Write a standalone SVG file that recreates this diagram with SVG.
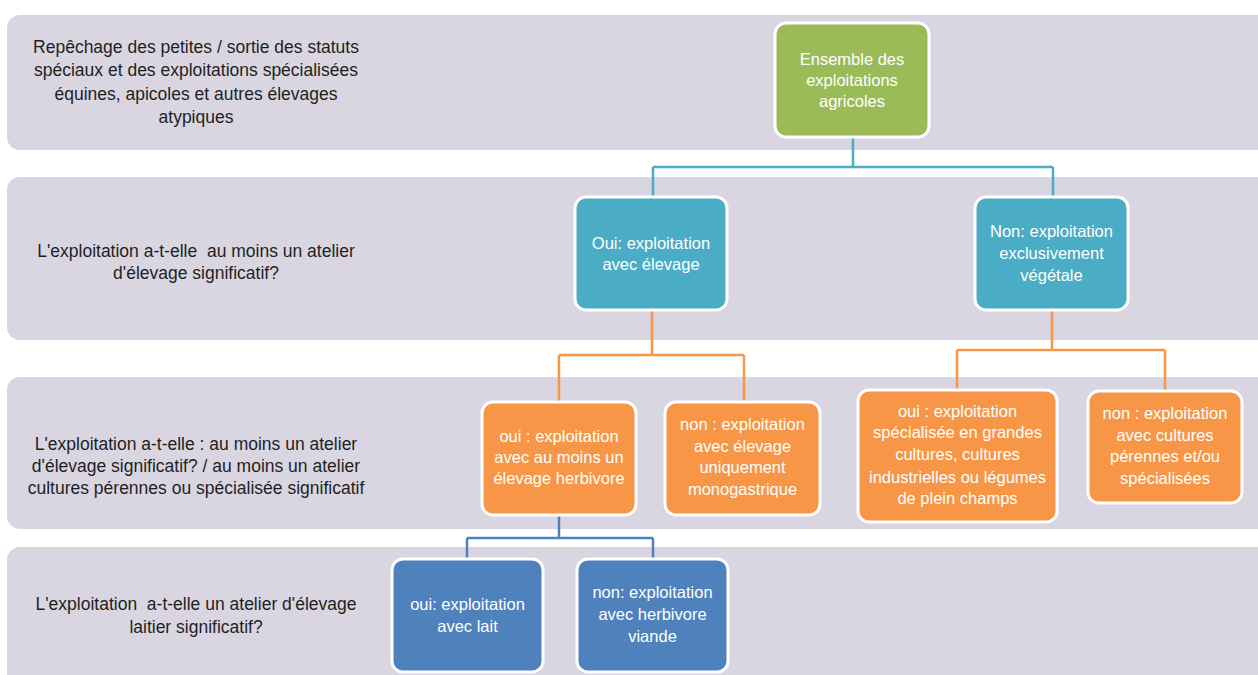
<svg xmlns="http://www.w3.org/2000/svg" width="1258" height="675" viewBox="0 0 1258 675">
<style>
.band{fill:#d9d6e2;}
.lbl{font-family:"Liberation Sans",Arial,sans-serif;font-size:17.5px;fill:#1f1f1f;text-anchor:middle;}
.nt{font-family:"Liberation Sans",Arial,sans-serif;font-size:16.5px;fill:#ffffff;text-anchor:middle;}
.node{stroke:#ffffff;stroke-width:3;}
.green{fill:#9bbb59;}
.teal{fill:#4bacc6;}
.orange{fill:#f79646;}
.blue{fill:#4f81bd;}
.c{fill:none;stroke-width:2.5;}
.ct{stroke:#4bacc6;}
.co{stroke:#f79646;}
.cb{stroke:#4f81bd;}
</style>
<rect width="1258" height="675" fill="#ffffff"/>
<g id="bands">
<g id="band1"><rect class="band" x="7" y="15" width="1270" height="135" rx="13"/>
<text class="lbl"><tspan x="196" y="53">Repêchage des petites / sortie des statuts</tspan><tspan x="196" y="76">spéciaux et des exploitations spécialisées</tspan><tspan x="196" y="100">équines, apicoles et autres élevages</tspan><tspan x="196" y="123">atypiques</tspan></text></g>
<g id="band2"><rect class="band" x="7" y="177" width="1270" height="163" rx="13"/>
<text class="lbl"><tspan x="196" y="257">L'exploitation a-t-elle&#160; au moins un atelier</tspan><tspan x="196" y="279">d'élevage significatif?</tspan></text></g>
<g id="band3"><rect class="band" x="7" y="377" width="1270" height="152" rx="13"/>
<text class="lbl"><tspan x="196" y="450">L'exploitation a-t-elle : au moins un atelier</tspan><tspan x="196" y="472">d'élevage significatif? / au moins un atelier</tspan><tspan x="196" y="494">cultures pérennes ou spécialisée significatif</tspan></text></g>
<g id="band4"><rect class="band" x="7" y="547" width="1270" height="150" rx="13"/>
<text class="lbl"><tspan x="196" y="610">L'exploitation&#160; a-t-elle un atelier d'élevage</tspan><tspan x="196" y="633">laitier significatif?</tspan></text></g>
</g>
<g id="connectors">
<path class="c ct" d="M853 137 V167 M653 167 H1053 M653 167 V197 M1053 167 V197"/>
<path class="c co" d="M652 310 V355 M559 355 H744 M559 355 V402 M744 355 V402"/>
<path class="c co" d="M1052 310 V350 M957 350 H1165 M957 350 V390 M1165 350 V391"/>
<path class="c cb" d="M559 515 V538 M467 538 H653 M467 538 V559 M653 538 V559"/>
</g>
<g id="n-ensemble"><rect class="node green" x="775" y="23" width="154" height="114" rx="11"/>
<text class="nt"><tspan x="852" y="65">Ensemble des</tspan><tspan x="852" y="86">exploitations</tspan><tspan x="852" y="107">agricoles</tspan></text></g>
<g id="n-oui-elevage"><rect class="node teal" x="575" y="197" width="152" height="113" rx="11"/>
<text class="nt"><tspan x="651" y="249">Oui: exploitation</tspan><tspan x="651" y="270">avec élevage</tspan></text></g>
<g id="n-non-vegetale"><rect class="node teal" x="975" y="197" width="153" height="113" rx="11"/>
<text class="nt"><tspan x="1051.5" y="237">Non: exploitation</tspan><tspan x="1051.5" y="259">exclusivement</tspan><tspan x="1051.5" y="281">végétale</tspan></text></g>
<g id="n-herbivore"><rect class="node orange" x="482" y="402" width="154" height="113" rx="11"/>
<text class="nt"><tspan x="559" y="442">oui : exploitation</tspan><tspan x="559" y="463">avec au moins un</tspan><tspan x="559" y="484">élevage herbivore</tspan></text></g>
<g id="n-monogastrique"><rect class="node orange" x="665" y="402" width="155" height="113" rx="11"/>
<text class="nt"><tspan x="742.5" y="430">non : exploitation</tspan><tspan x="742.5" y="452">avec élevage</tspan><tspan x="742.5" y="473">uniquement</tspan><tspan x="742.5" y="495">monogastrique</tspan></text></g>
<g id="n-grandes-cultures"><rect class="node orange" x="858" y="390" width="199" height="132" rx="11"/>
<text class="nt"><tspan x="957.5" y="417">oui : exploitation</tspan><tspan x="957.5" y="438">spécialisée en grandes</tspan><tspan x="957.5" y="460">cultures, cultures</tspan><tspan x="957.5" y="483">industrielles ou légumes</tspan><tspan x="957.5" y="504">de plein champs</tspan></text></g>
<g id="n-perennes"><rect class="node orange" x="1088" y="391" width="154" height="112" rx="11"/>
<text class="nt"><tspan x="1165" y="419">non : exploitation</tspan><tspan x="1165" y="441">avec cultures</tspan><tspan x="1165" y="462">pérennes et/ou</tspan><tspan x="1165" y="484">spécialisées</tspan></text></g>
<g id="n-lait"><rect class="node blue" x="392" y="559" width="151" height="113" rx="11"/>
<text class="nt"><tspan x="467.5" y="610">oui: exploitation</tspan><tspan x="467.5" y="632">avec lait</tspan></text></g>
<g id="n-viande"><rect class="node blue" x="577" y="559" width="151" height="113" rx="11"/>
<text class="nt"><tspan x="652.5" y="598">non: exploitation</tspan><tspan x="652.5" y="620">avec herbivore</tspan><tspan x="652.5" y="642">viande</tspan></text></g>
</svg>
